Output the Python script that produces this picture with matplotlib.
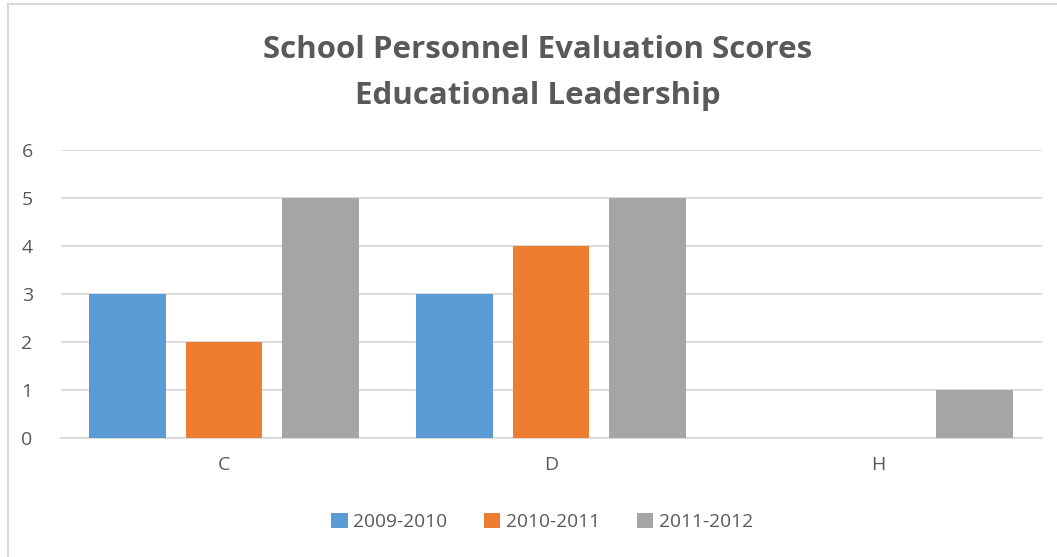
import matplotlib
matplotlib.use("Agg")
import matplotlib.pyplot as plt
import numpy as np
from matplotlib.lines import Line2D

# === Data ===
CATEGORIES = ["C", "D", "H"]
SERIES = ["2009-2010", "2010-2011", "2011-2012"]
S2009 = [3, 3, 0]
S2010 = [2, 4, 0]
S2011 = [5, 5, 1]
COLORS = ["#5B9BD5", "#ED7D31", "#A5A5A5"]

TITLE = "School Personnel Evaluation Scores\nEducational Leadership"

W, H = 1057, 557
plt.rcParams["font.family"] = ["Open Sans", "DejaVu Sans"]

fig = plt.figure(figsize=(W / 100, H / 100), dpi=100)
ax = fig.add_axes([60.5 / W, 1 - 438 / H, 981 / W, 288 / H])

x = np.arange(len(CATEGORIES))
bw = 0.235
step = 0.294
for i, (vals, col, name) in enumerate(zip([S2009, S2010, S2011], COLORS, SERIES)):
    ax.bar(x + (i - 1) * step, vals, width=bw, color=col, label=name, zorder=3)

ax.set_xlim(-0.5, len(CATEGORIES) - 0.5)
ax.set_ylim(0, 6)
ax.set_yticks(range(0, 7))
ax.set_xticks(x)
ax.set_xticklabels(CATEGORIES)
ax.grid(axis="y", color="#D9D9D9", linewidth=1.3, zorder=0)
for s in ["top", "right", "left"]:
    ax.spines[s].set_visible(False)
ax.spines["bottom"].set_color("#D9D9D9")
ax.spines["bottom"].set_linewidth(1.3)
ax.tick_params(length=0, labelsize=14, colors="#595959")
ax.tick_params(axis="y", pad=20)
ax.tick_params(axis="x", pad=13)

fig.text(538 / W, 1 - 73 / H, TITLE, ha="center", va="center", fontsize=22.5,
         fontweight="bold", color="#595959", linespacing=1.68)

ax.legend(loc="center", bbox_to_anchor=(542 / W, 1 - 522 / H), bbox_transform=fig.transFigure,
          ncol=3, frameon=False, fontsize=13.8, handlelength=0.85, handleheight=0.85,
          columnspacing=1.9, handletextpad=0.3, labelcolor="#595959")

# chart border (left and top only)
fig.add_artist(Line2D([7.5 / W, 7.5 / W], [0, 1 - 4 / H], color="#D9D9D9", lw=1.5, transform=fig.transFigure))
fig.add_artist(Line2D([7.5 / W, 1], [1 - 4 / H, 1 - 4 / H], color="#D9D9D9", lw=1.5, transform=fig.transFigure))

fig.savefig("out.png", dpi=100)
